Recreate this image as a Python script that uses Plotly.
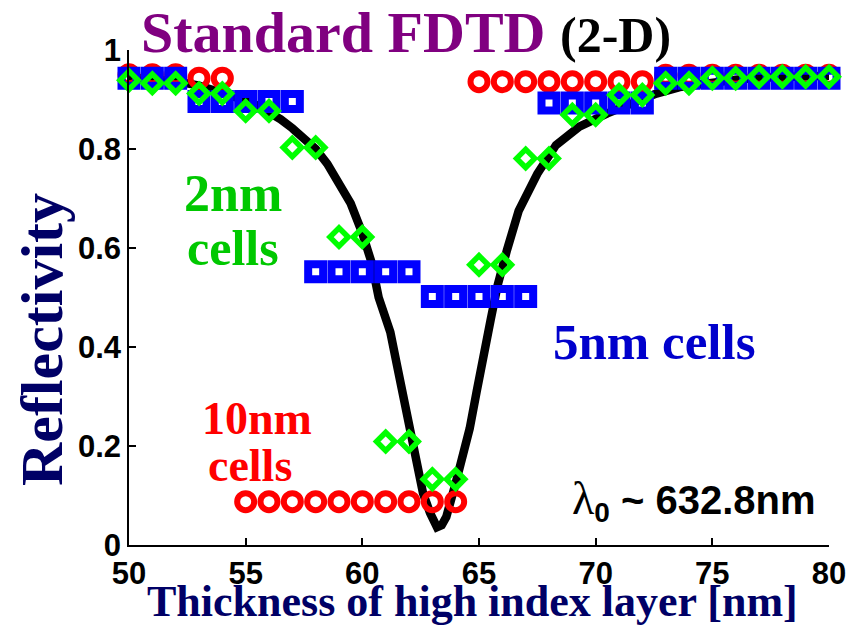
import plotly.graph_objects as go

# Layer thickness grid (nm) shared by the three discretised FDTD runs
thickness = list(range(50, 81))

# 10 nm cells
refl_10nm = [0.950, 0.950, 0.950, 0.943, 0.943,
             0.0875, 0.0875, 0.0875, 0.0875, 0.0875, 0.0875, 0.0875, 0.0875, 0.0875, 0.0875,
             0.936, 0.936, 0.936, 0.936, 0.936, 0.936, 0.936, 0.936,
             0.949, 0.949, 0.949, 0.949, 0.949, 0.949, 0.949, 0.949]

# 5 nm cells
refl_5nm = [0.943, 0.943, 0.943,
            0.896, 0.896, 0.896, 0.896, 0.896,
            0.552, 0.552, 0.552, 0.552, 0.552,
            0.502, 0.502, 0.502, 0.502, 0.502,
            0.893, 0.893, 0.893, 0.893, 0.893,
            0.943, 0.943, 0.943, 0.943, 0.943, 0.943, 0.943, 0.943]

# 2 nm cells
refl_2nm = [0.939,
            0.933, 0.933, 0.912, 0.912, 0.877, 0.877, 0.803, 0.803,
            0.622, 0.622, 0.209, 0.209, 0.133, 0.133, 0.566, 0.566,
            0.781, 0.781, 0.869, 0.869, 0.909, 0.909, 0.933, 0.933,
            0.943, 0.943, 0.946, 0.946, 0.946, 0.946]

# Exact (continuous) reflectivity curve
exact_x = [50, 51, 52, 53, 54, 55, 55.5, 56, 56.5, 57, 57.5, 58, 58.5, 59, 59.5, 60,
           60.4, 60.7, 61.0, 61.2, 61.5, 61.8, 62.0, 62.3, 62.6, 62.9, 63.2, 63.4,
           63.6, 64.0, 64.3, 64.6, 64.9, 65.2, 65.5, 65.8, 66.0, 66.2, 66.7, 67.5,
           68.3, 69.3, 70.5, 71.6, 72.6, 73.6, 75, 76, 77, 78, 79, 80]
exact_y = [0.945, 0.942, 0.937, 0.928, 0.915, 0.898, 0.888, 0.876, 0.860, 0.842, 0.822,
           0.800, 0.770, 0.733, 0.690, 0.630, 0.570, 0.500, 0.460, 0.430, 0.360, 0.290,
           0.225, 0.160, 0.105, 0.065, 0.036, 0.040, 0.057, 0.125, 0.175, 0.235, 0.310,
           0.390, 0.455, 0.525, 0.566, 0.596, 0.675, 0.750, 0.808, 0.845, 0.872, 0.893,
           0.912, 0.925, 0.935, 0.940, 0.944, 0.946, 0.947, 0.948]

x_ticks = [50, 55, 60, 65, 70, 75, 80]
y_ticks = [0, 0.2, 0.4, 0.6, 0.8, 1]
y_tick_text = ["0", "0.2", "0.4", "0.6", "0.8", "1"]

fig = go.Figure()

fig.add_trace(go.Scatter(x=exact_x, y=exact_y, mode="lines",
                         line=dict(color="black", width=8.5), cliponaxis=False))
fig.add_trace(go.Scatter(x=thickness, y=refl_10nm, mode="markers", cliponaxis=False,
                         marker=dict(symbol="circle-open", size=17, color="#ff0000",
                                     line=dict(width=6, color="#ff0000"))))
fig.add_trace(go.Scatter(x=thickness, y=refl_5nm, mode="markers", cliponaxis=False,
                         marker=dict(symbol="square-open", size=15, color="#0000ff",
                                     line=dict(width=8, color="#0000ff"))))
fig.add_trace(go.Scatter(x=thickness, y=refl_2nm, mode="markers", cliponaxis=False,
                         marker=dict(symbol="diamond-open", size=14, color="#00ff00",
                                     line=dict(width=5.5, color="#00ff00"))))

serif = "Liberation Serif"
sans = "Liberation Sans"

annotations = [
    dict(text="<b><span style='color:#800080;font-size:58px'>Standard FDTD&nbsp;</span>"
              "<span style='font-size:50px'>(2-D)</span></b>",
         xref="paper", yref="paper", x=0.014, y=1, xanchor="left", yanchor="middle",
         yshift=18, showarrow=False, font=dict(family=serif, color="black")),
    dict(text="<b>Reflectivity</b>", xref="paper", yref="paper", x=0, y=0.414,
         xshift=-87, xanchor="center", yanchor="middle", textangle=-90, showarrow=False,
         font=dict(family=serif, size=60, color="#000066")),
    dict(text="<b>Thickness of high index layer [nm]</b>", xref="paper", yref="paper",
         x=0.491, y=0, xanchor="center", yanchor="middle", yshift=-56, showarrow=False,
         font=dict(family=serif, size=44, color="#000066")),
    dict(text="<b>2nm</b>", x=54.45, y=0.71, showarrow=False,
         font=dict(family=serif, size=52, color="#00c800")),
    dict(text="<b>cells</b>", x=54.45, y=0.6, showarrow=False,
         font=dict(family=serif, size=50, color="#00c800")),
    dict(text="<b>10nm</b>", x=55.5, y=0.255, showarrow=False,
         font=dict(family=serif, size=46, color="#ff0000")),
    dict(text="<b>cells</b>", x=55.2, y=0.16, showarrow=False,
         font=dict(family=serif, size=46, color="#ff0000")),
    dict(text="<b>5nm cells</b>", x=72.5, y=0.41, showarrow=False,
         font=dict(family=serif, size=51, color="#0000cc")),
    dict(text="<span style='font-family:Liberation Serif;font-size:46px'>λ</span>"
              "<b><sub>0</sub> ~ 632.8nm</b>",
         x=74.2, y=0.09, showarrow=False,
         font=dict(family=sans, size=40, color="black")),
]

axis_common = dict(showgrid=False, zeroline=False, showline=True, linecolor="black",
                   linewidth=1.5, ticks="inside", ticklen=7, tickwidth=1.5,
                   tickcolor="black", mirror=False,
                   tickfont=dict(family=sans, size=31, color="black", weight="bold"))

fig.update_layout(
    width=867, height=626,
    margin=dict(l=129, r=38, t=50, b=81),
    paper_bgcolor="white", plot_bgcolor="white",
    showlegend=False,
    xaxis=dict(range=[50, 80], tickvals=x_ticks, ticklabelstandoff=0, **axis_common),
    yaxis=dict(range=[0, 1], tickvals=y_ticks, ticktext=y_tick_text, **axis_common),
    annotations=annotations,
)

fig.write_html("out.html")
